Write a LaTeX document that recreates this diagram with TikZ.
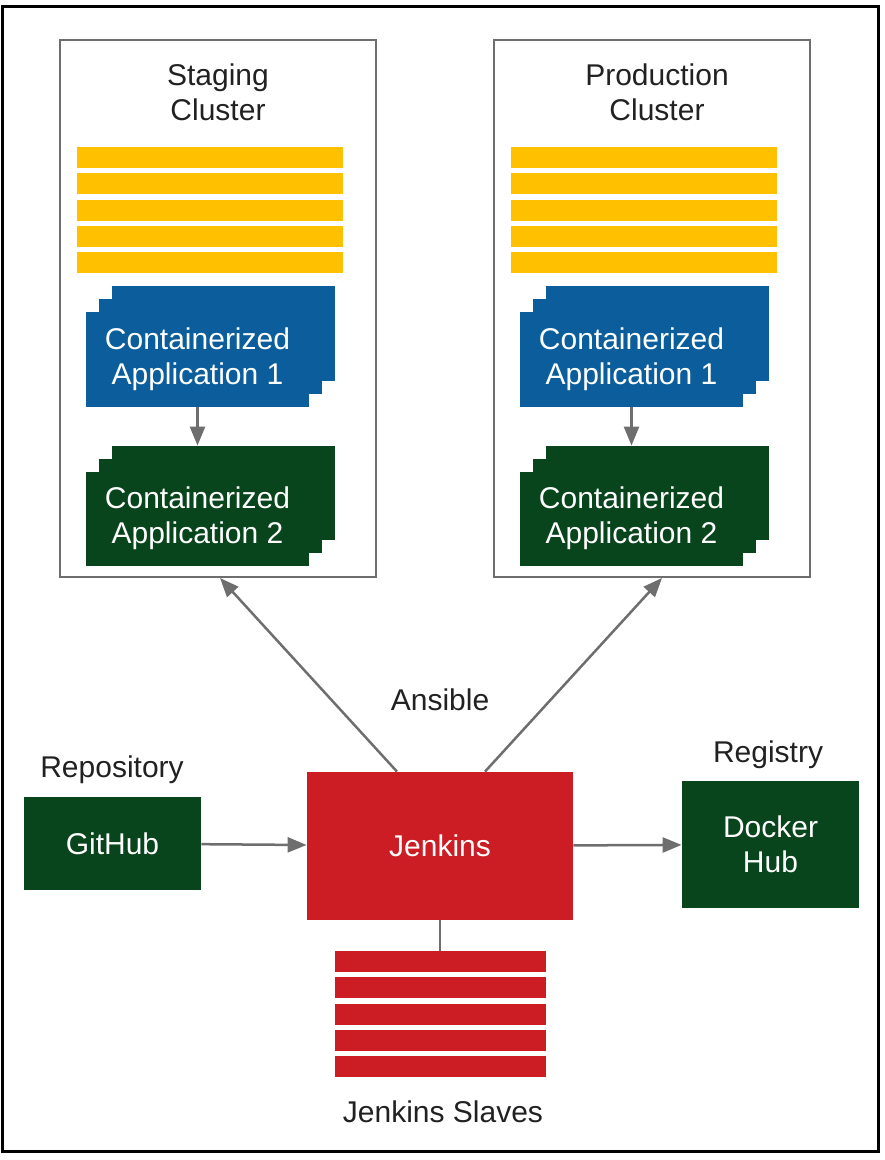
\documentclass[tikz,border=0pt]{standalone}
\usepackage{fontspec}
\setmainfont{Liberation Sans}
\usetikzlibrary{arrows.meta,calc}
\definecolor{barYellow}{RGB}{255,192,0}
\definecolor{appBlue}{RGB}{11,94,155}
\definecolor{appGreen}{RGB}{8,69,28}
\definecolor{jenRed}{RGB}{204,28,36}
\definecolor{lineGray}{RGB}{110,110,110}
\definecolor{txtGray}{RGB}{33,33,33}

\begin{document}
\begin{tikzpicture}[x=0.5pt, y=-0.5pt,
    every node/.style={font=\fontsize{15}{17.5}\selectfont, inner sep=0pt, text=txtGray},
    cluster/.style={draw=lineGray, line width=1pt, minimum width=158pt, minimum height=268.5pt},
    card/.style={minimum width=111.5pt, minimum height=47pt},
    box/.style={text=white, align=center},
    link/.style={draw=lineGray, line width=1.25pt, -{Triangle[length=9.5pt,width=7.5pt]}}]
    \useasboundingbox (0,0) rectangle (884,1160);
    \draw[line width=1.5pt] (2.5,6.5) rectangle (878.5,1151.5);

    % Draw the two clusters
    \node[cluster] (staging) at (218,308.5) {};
    \node[cluster] (production) at (652,308.5) {};
    \node[align=center] (stagingTitle) at (218,92.5) {Staging\\Cluster};
    \node[align=center] (productionTitle) at (657,92.5) {Production\\Cluster};

    % Draw node bars, five per cluster
    \def\h{21}
    \foreach \c in {210, 644} {
        \foreach \i in {0,...,4} {
            \fill[barYellow] (\c-133, 147+26.3*\i) rectangle (\c+133, 147+26.3*\i+\h);
        }
    }

    % Draw stacked containers (back, middle, front)
    \foreach \n/\x/\y/\c/\t in {s1/197.5/359.5/appBlue/1, s2/197.5/519/appGreen/2,
                                p1/631.5/359.5/appBlue/1, p2/631.5/519/appGreen/2} {
        \node[card, fill=\c] (\n-back) at (\x+26,\y-26) {};
        \node[card, fill=\c] (\n-mid) at (\x+13,\y-13) {};
        \node[card, fill=\c, box] (\n) at (\x,\y)
            {\raisebox{-2.5pt}{\begin{tabular}{@{}c@{}}Containerized\\Application \t\end{tabular}}};
    }
    \draw[link] (s1.south) -- (s1.south |- s2-back.north);
    \draw[link] (p1.south) -- (p1.south |- p2-back.north);

    % Draw the pipeline
    \node[fill=jenRed, box, minimum width=133pt, minimum height=74pt] (jenkins) at (440,846) {Jenkins};
    \node[fill=appGreen, box, minimum width=88.5pt, minimum height=46.5pt] (github) at (112.5,843.5) {GitHub};
    \node[fill=appGreen, box, minimum width=88.5pt, minimum height=63.5pt] (docker) at (770.5,844.5) {Docker\\Hub};
    \node (repo) at (112,770) {Repository};
    \node (registry) at (768,755) {Registry};
    \node (ansible) at (440,700) {Ansible};

    \draw[link] (github) -- (jenkins);
    \draw[link] (jenkins) -- (docker);
    \draw[link] ($(jenkins.north)+(-43,0)$) -- ($(staging.south)+(2,0)$);
    \draw[link] ($(jenkins.north)+(45,0)$) -- ($(production.south)+(10,0)$);

    % Draw slaves
    \foreach \i in {0,...,4} {
        \fill[jenRed] (335, 951+26.3*\i) rectangle (546, 951+26.3*\i+\h);
    }
    \coordinate (slaves) at (440,951);
    \draw[lineGray, line width=1.25pt] (jenkins.south) -- (slaves);
    \node (slavesLabel) at (443,1112) {Jenkins Slaves};
\end{tikzpicture}
\end{document}
